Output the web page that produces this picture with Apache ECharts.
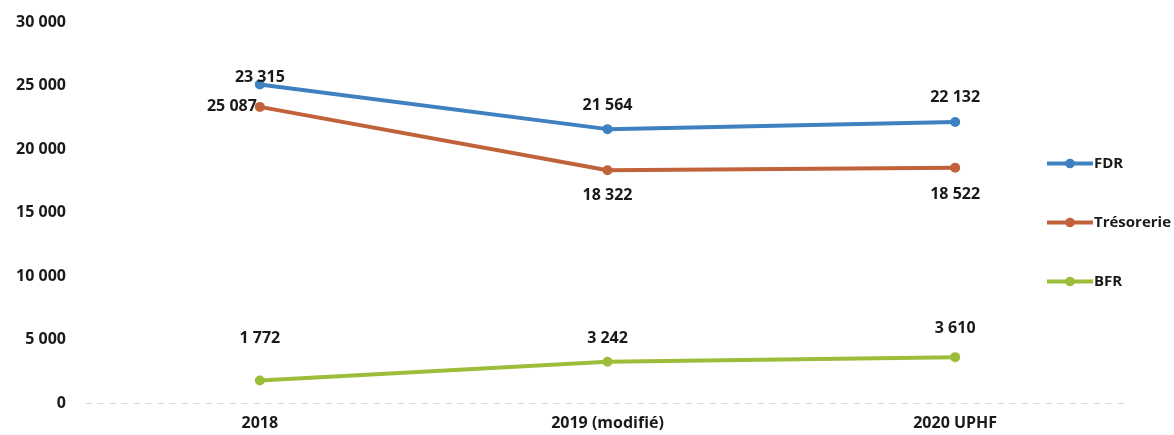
<!DOCTYPE html>
<html>
<head>
<meta charset="utf-8">
<script src="https://cdn.jsdelivr.net/npm/echarts@6/dist/echarts.min.js"></script>
<style>
html,body{margin:0;padding:0;background:#fff;}
#chart{width:1174px;height:435px;}
</style>
</head>
<body>
<div id="chart"></div>
<script>
var categories = ['2018', '2019 (modifié)', '2020 UPHF'];
var fdr = [25087, 21564, 22132];
var tresorerie = [23315, 18322, 18522];
var bfr = [1772, 3242, 3610];
// data label texts as printed in the reference
var fdrLabels = ['23 315', '21 564', '22 132'];
var tresoLabels = ['25 087', '18 322', '18 522'];
var bfrLabels = ['1 772', '3 242', '3 610'];
var yTicks = [0, 5000, 10000, 15000, 20000, 25000, 30000];

function fmt(v) {
  return String(v).replace(/\B(?=(\d{3})+(?!\d))/g, ' ');
}

var FONT = 'Open Sans';
var FS = 16;
var labelBase = { show: true, fontFamily: FONT, fontWeight: 'bold', fontSize: FS, color: '#1a1a1a' };

function buildData(values, labels, pos, distances) {
  return values.map(function (v, i) {
    var d = distances[i];
    return {
      value: v,
      label: Object.assign({}, labelBase, {
        position: d.pos || pos,
        distance: d.dist,
        formatter: labels[i]
      })
    };
  });
}

var chart = echarts.init(document.getElementById('chart'));
chart.setOption({
  animation: false,
  backgroundColor: '#fff',
  grid: { left: 86, right: 45, top: 22, bottom: 32 },
  legend: {
    orient: 'vertical',
    left: 1040,
    top: 151,
    itemGap: 44,
    itemWidth: 46,
    itemHeight: 12,
    lineStyle: { width: 4 },
    textStyle: { fontFamily: FONT, fontWeight: 'bold', fontSize: 15, color: '#1a1a1a', padding: [0, 0, 0, -4] },
    data: ['FDR', 'Trésorerie', 'BFR']
  },
  xAxis: {
    type: 'category',
    data: categories,
    boundaryGap: true,
    axisLine: { show: true, lineStyle: { color: '#d9d9d9', type: [6, 6], width: 1 } },
    axisTick: { show: false },
    axisLabel: { fontFamily: FONT, fontWeight: 'bold', fontSize: FS, color: '#1a1a1a', margin: 12 }
  },
  yAxis: {
    type: 'value',
    min: yTicks[0],
    max: yTicks[yTicks.length - 1],
    interval: 5000,
    axisLine: { show: false },
    axisTick: { show: false },
    splitLine: { show: false },
    axisLabel: { fontFamily: FONT, fontWeight: 'bold', fontSize: FS, color: '#1a1a1a', margin: 20, formatter: fmt }
  },
  series: [
    {
      name: 'FDR', type: 'line', data: buildData(fdr, fdrLabels, 'top', [{ dist: -6 }, { dist: 11 }, { dist: 11 }]),
      symbol: 'circle', symbolSize: 10,
      lineStyle: { width: 4, color: '#3f80c0' }, itemStyle: { color: '#3f80c0' }
    },
    {
      name: 'Trésorerie', type: 'line', data: buildData(tresorerie, tresoLabels, 'bottom', [{ pos: 'left', dist: -2 }, { dist: 12 }, { dist: 14 }]),
      symbol: 'circle', symbolSize: 10,
      lineStyle: { width: 4, color: '#c0623a' }, itemStyle: { color: '#c0623a' }
    },
    {
      name: 'BFR', type: 'line', data: buildData(bfr, bfrLabels, 'top', [{ dist: 29 }, { dist: 10 }, { dist: 16 }]),
      symbol: 'circle', symbolSize: 10,
      lineStyle: { width: 4, color: '#9bbd3a' }, itemStyle: { color: '#9bbd3a' }
    }
  ]
});
</script>
</body>
</html>
